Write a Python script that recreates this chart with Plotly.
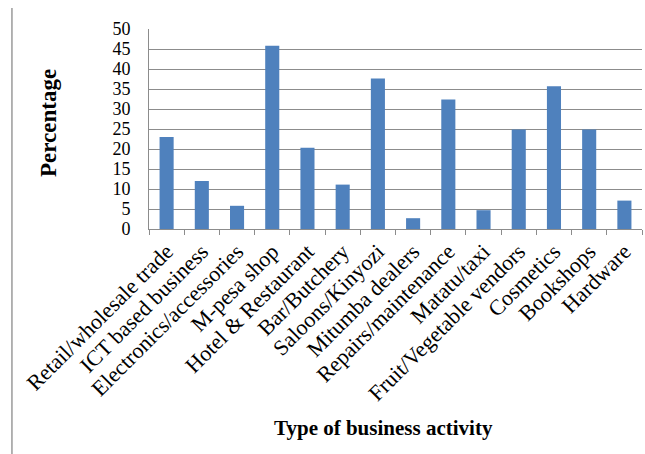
import plotly.graph_objects as go

categories = ["Retail/wholesale trade", "ICT based business", "Electronics/accessories",
              "M-pesa shop", "Hotel & Restaurant", "Bar/Butchery", "Saloons/Kinyozi",
              "Mitumba dealers", "Repairs/maintenance", "Matatu/taxi",
              "Fruit/Vegetable vendors", "Cosmetics", "Bookshops", "Hardware"]
percentages = [23, 12, 5.8, 45.8, 20.3, 11.1, 37.6, 2.7, 32.4, 4.7, 24.9, 35.7, 24.9, 7.1]
y_ticks = [0, 5, 10, 15, 20, 25, 30, 35, 40, 45, 50]

FONT = "Liberation Serif"

fig = go.Figure(go.Bar(x=categories, y=percentages, marker_color="#4F81BD",
                       marker_line_width=0))

fig.update_layout(
    width=645, height=454,
    margin=dict(l=149, r=3, t=29, b=225),
    paper_bgcolor="white", plot_bgcolor="white",
    bargap=0.6,
    showlegend=False,
    font=dict(family=FONT, color="black"),
)
fig.update_xaxes(
    tickangle=-45, tickfont=dict(family=FONT, size=22, color="black"),
    showline=True, linecolor="#8c8c8c", linewidth=1,
    ticks="outside", tickson="boundaries", ticklen=5, tickcolor="#8c8c8c",
    showgrid=False,
)
fig.update_yaxes(
    range=[0, 50], tickvals=y_ticks,
    tickfont=dict(family=FONT, size=18, color="black"),
    showline=True, linecolor="#8c8c8c", linewidth=1,
    showgrid=True, gridcolor="#8c8c8c", gridwidth=1,
    ticks="", ticklabelstandoff=14, zeroline=False,
)
fig.add_annotation(text="<b>Percentage</b>", xref="paper", yref="paper",
                   x=-0.205, y=0.53, xanchor="center", yanchor="middle",
                   textangle=-90, showarrow=False,
                   font=dict(family=FONT, size=23, color="black"))
fig.add_annotation(text="<b>Type of business activity</b>", xref="paper", yref="paper",
                   x=0.475, y=-0.995, xanchor="center", yanchor="middle",
                   showarrow=False,
                   font=dict(family=FONT, size=21, color="black"))
fig.add_shape(type="line", xref="paper", yref="paper",
              x0=-0.278, x1=-0.278, y0=-1.125, y1=1.105,
              line=dict(color="#9a9a9a", width=1.5))

fig.write_html("out.html")
